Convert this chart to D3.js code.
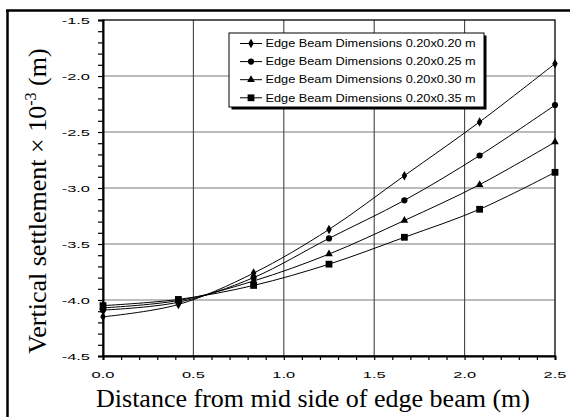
<!DOCTYPE html>
<html>
<head>
<meta charset="utf-8">
<script src="https://cdn.jsdelivr.net/npm/d3@7"></script>
<style>
  html, body { margin: 0; padding: 0; background: #fff; }
  svg { display: block; }
</style>
</head>
<body>
<svg id="chart" width="570" height="417"></svg>
<script>
// Distance from mid side of edge beam (m)
const distances = [0, 0.417, 0.833, 1.25, 1.667, 2.083, 2.5];

// Vertical settlement (x 10^-3 m) for each edge beam section
const beam020x020 = [-4.15, -4.04, -3.76, -3.37, -2.89, -2.41, -1.89];
const beam020x025 = [-4.09, -4.02, -3.80, -3.45, -3.11, -2.71, -2.26];
const beam020x030 = [-4.07, -4.005, -3.83, -3.59, -3.29, -2.97, -2.59];
const beam020x035 = [-4.05, -3.995, -3.87, -3.68, -3.44, -3.19, -2.86];

const seriesNames = [
  "Edge Beam Dimensions 0.20x0.20 m",
  "Edge Beam Dimensions 0.20x0.25 m",
  "Edge Beam Dimensions 0.20x0.30 m",
  "Edge Beam Dimensions 0.20x0.35 m"
];
const seriesValues = [beam020x020, beam020x025, beam020x030, beam020x035];
const seriesSymbols = [d3.symbolDiamond, d3.symbolCircle, d3.symbolTriangle, d3.symbolSquare];
const symbolSizes = [26, 30, 26, 46];

const xTicks = [0, 0.5, 1.0, 1.5, 2.0, 2.5];
const yTicks = [-4.5, -4.0, -3.5, -3.0, -2.5, -2.0, -1.5];

const svg = d3.select("#chart");
const plot = { left: 103, right: 555, top: 20, bottom: 356 };

const x = d3.scaleLinear().domain([0, 2.5]).range([plot.left, plot.right]);
const y = d3.scaleLinear().domain([-4.5, -1.5]).range([plot.bottom, plot.top]);

// outer figure frame (left and top edges visible)
svg.append("line").attr("x1", 7.5).attr("x2", 7.5).attr("y1", 10).attr("y2", 417)
  .attr("stroke", "#000").attr("stroke-width", 2.5);
svg.append("line").attr("x1", 6).attr("x2", 570).attr("y1", 10.5).attr("y2", 10.5)
  .attr("stroke", "#000").attr("stroke-width", 2.5);

// gridlines
const grid = svg.append("g");
grid.selectAll("line.h").data(yTicks.slice(1, -1)).join("line")
  .attr("x1", plot.left).attr("x2", plot.right)
  .attr("y1", d => y(d)).attr("y2", d => y(d))
  .attr("stroke", "#7a7a7a").attr("stroke-width", 1.2);
grid.selectAll("line.v").data(xTicks.slice(1, -1)).join("line")
  .attr("x1", d => x(d)).attr("x2", d => x(d))
  .attr("y1", plot.top).attr("y2", plot.bottom)
  .attr("stroke", "#444").attr("stroke-width", 1.1);

// plot border
svg.append("rect")
  .attr("x", plot.left).attr("y", plot.top)
  .attr("width", plot.right - plot.left).attr("height", plot.bottom - plot.top)
  .attr("fill", "none").attr("stroke", "#000").attr("stroke-width", 1.3);

// axes with minor ticks
const yAxis = d3.axisLeft(y).tickValues(d3.range(-4.5, -1.49, 0.1)).tickSize(5).tickFormat("");
const xAxis = d3.axisBottom(x).tickValues(d3.range(0, 2.51, 0.1)).tickSize(4).tickFormat("");
const gy = svg.append("g").attr("transform", `translate(${plot.left},0)`).call(yAxis);
const gx = svg.append("g").attr("transform", `translate(0,${plot.bottom})`).call(xAxis);
[gx, gy].forEach(g => {
  g.select(".domain").attr("stroke", "#000").attr("stroke-width", 2);
  g.selectAll(".tick line").attr("stroke", "#000").attr("stroke-width", 1.2);
});

// tick labels (wide sans)
const tickFont = "'Liberation Sans', Arial, sans-serif";
const stretch = 1.68;
svg.append("g").selectAll("text").data(yTicks).join("text")
  .attr("transform", d => `translate(90,${y(d) + 3.6}) scale(${stretch},1)`)
  .attr("text-anchor", "end")
  .attr("font-family", tickFont).attr("font-size", 9.8)
  .text(d => d3.format(".1f")(d).replace("−", "-"));
svg.append("g").selectAll("text").data(xTicks).join("text")
  .attr("transform", d => `translate(${x(d)},377.5) scale(${stretch},1)`)
  .attr("text-anchor", "middle")
  .attr("font-family", tickFont).attr("font-size", 9.8)
  .text(d => d3.format(".1f")(d));

// axis titles
const titleFont = "'Liberation Serif', 'Times New Roman', serif";
svg.append("text")
  .attr("x", 313).attr("y", 407)
  .attr("text-anchor", "middle")
  .attr("font-family", titleFont).attr("font-size", 26)
  .text("Distance from mid side of edge beam (m)");

const yTitle = svg.append("text")
  .attr("transform", "translate(46,201) rotate(-90)")
  .attr("text-anchor", "middle")
  .attr("font-family", titleFont).attr("font-size", 26);
yTitle.append("tspan").text("Vertical settlement \u00D7 10");
yTitle.append("tspan").attr("dy", -10).attr("font-size", 16).text("-3");
yTitle.append("tspan").attr("dy", 10).text(" (m)");

// series lines and markers
const line = d3.line()
  .x((d, i) => x(distances[i]))
  .y(d => y(d))
  .curve(d3.curveCardinal.tension(0));

seriesValues.forEach((vals, s) => {
  svg.append("path")
    .attr("d", line(vals))
    .attr("fill", "none").attr("stroke", "#000").attr("stroke-width", 1);
  svg.append("g").selectAll("path").data(vals).join("path")
    .attr("transform", (d, i) => `translate(${x(distances[i])},${y(d)})`)
    .attr("d", d3.symbol().type(seriesSymbols[s]).size(symbolSizes[s]))
    .attr("fill", "#000");
});

// legend with drop shadow
const lg = { x: 229, y: 33, w: 255, h: 74 };
svg.append("rect")
  .attr("x", lg.x + 2.5).attr("y", lg.y + 2.5).attr("width", lg.w).attr("height", lg.h)
  .attr("fill", "#000");
svg.append("rect")
  .attr("x", lg.x).attr("y", lg.y).attr("width", lg.w).attr("height", lg.h)
  .attr("fill", "#fff").attr("stroke", "#000").attr("stroke-width", 1);

seriesNames.forEach((name, s) => {
  const cy = 43.5 + s * 18.1;
  svg.append("line").attr("x1", 240).attr("x2", 262).attr("y1", cy).attr("y2", cy)
    .attr("stroke", "#000").attr("stroke-width", 1);
  svg.append("path")
    .attr("transform", `translate(251,${cy})`)
    .attr("d", d3.symbol().type(seriesSymbols[s]).size(symbolSizes[s]))
    .attr("fill", "#000");
  svg.append("text")
    .attr("transform", `translate(265.5,${cy + 3.7}) scale(1.25,1)`)
    .attr("font-family", tickFont).attr("font-size", 10.2)
    .text(name);
});
</script>
</body>
</html>
